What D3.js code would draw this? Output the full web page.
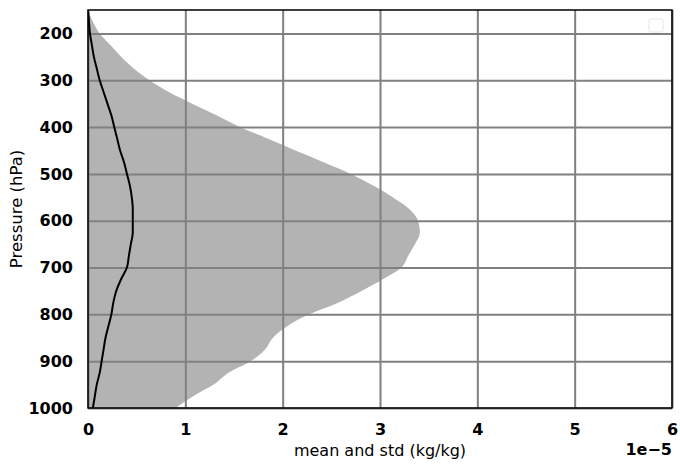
<!DOCTYPE html>
<meta charset="utf-8">
<style>

body {
  margin: 0;
  background: #fff;
  font-family: "DejaVu Sans", sans-serif;
}

.axis text {
  font-family: "DejaVu Sans", sans-serif;
  font-size: 16px;
  font-weight: bold;
  fill: #000;
}

.axis line {
  stroke: #808080;
  stroke-width: 2px;
}

.axis path.domain {
  display: none;
}

.line {
  fill: none;
  stroke: #000;
  stroke-width: 2px;
}

</style>
<body>
<script src="https://d3js.org/d3.v7.min.js"></script>
<div id="container"></div>

<script>

// pressure levels (hPa) and profiles, in units of 1e-5 kg/kg
var levels = [150, 175, 200, 225, 250, 275, 300, 325, 350, 375, 400, 425, 450, 475,
              500, 525, 550, 575, 600, 625, 650, 675, 700, 725, 750, 775, 800, 825,
              850, 875, 900, 925, 950, 975, 1000];
var meanVals = [0.00, 0.01, 0.02, 0.04, 0.06, 0.09, 0.12, 0.16, 0.20, 0.24, 0.27, 0.30,
                0.33, 0.37, 0.40, 0.43, 0.45, 0.46, 0.46, 0.46, 0.44, 0.42, 0.40, 0.34,
                0.29, 0.26, 0.24, 0.21, 0.18, 0.16, 0.14, 0.12, 0.09, 0.07, 0.05];
var stdVals = [0.00, 0.04, 0.10, 0.19, 0.28, 0.38, 0.51, 0.67, 0.87, 1.08, 1.29, 1.55,
               1.80, 2.05, 2.30, 2.50, 2.68, 2.84, 2.93, 2.95, 2.92, 2.87, 2.82, 2.69,
               2.52, 2.31, 2.03, 1.84, 1.72, 1.66, 1.53, 1.32, 1.20, 1.01, 0.85];
var xTicks = [0, 1, 2, 3, 4, 5, 6];
var yTicks = [200, 300, 400, 500, 600, 700, 800, 900, 1000];

var margin = {top: 10, right: 8, bottom: 57, left: 88},
    width = 680 - margin.left - margin.right,
    height = 465 - margin.top - margin.bottom;

var x = d3.scaleLinear().domain([0, 6]).range([0, width]);
var y = d3.scaleLinear().domain([150, 1000]).range([0, height]);

var rows = d3.range(levels.length).map(function(i) {
  return {p: levels[i], m: meanVals[i], s: stdVals[i]};
});

var svg = d3.select("#container")
    .append("svg")
        .attr("width", 680)
        .attr("height", 465);

var g = svg.append("g")
    .attr("transform", "translate(" + margin.left + "," + margin.top + ")");

g.append("clipPath")
    .attr("id", "clip")
  .append("rect")
    .attr("width", width)
    .attr("height", height);

// std band
var band = d3.area()
    .y(function(d) { return y(d.p); })
    .x0(function(d) { return x(d.m - d.s); })
    .x1(function(d) { return x(d.m + d.s); })
    .curve(d3.curveMonotoneY);

g.append("path")
    .attr("clip-path", "url(#clip)")
    .attr("fill", "#b3b3b3")
    .attr("d", band(rows));

// grid + tick labels
g.append("g")
    .attr("class", "x axis")
    .attr("transform", "translate(0," + height + ")")
    .call(d3.axisBottom(x).tickValues(xTicks).tickSize(-height).tickPadding(16)
      .tickFormat(d3.format("d")));

g.append("g")
    .attr("class", "y axis")
    .call(d3.axisLeft(y).tickValues(yTicks).tickSize(-width).tickPadding(15)
      .tickFormat(d3.format("d")));

// mean profile
var meanLine = d3.line()
    .y(function(d) { return y(d.p); })
    .x(function(d) { return x(d.m); })
    .curve(d3.curveMonotoneY);

g.append("path")
    .attr("class", "line")
    .attr("clip-path", "url(#clip)")
    .attr("d", meanLine(rows));

// frame
g.append("rect")
    .attr("width", width)
    .attr("height", height)
    .attr("fill", "none")
    .attr("stroke", "#000")
    .attr("stroke-width", 1.5);

// empty legend box
g.append("rect")
    .attr("x", width - 23)
    .attr("y", 9)
    .attr("width", 14)
    .attr("height", 13)
    .attr("rx", 2)
    .attr("fill", "#fff")
    .attr("stroke", "#e6e6e6")
    .attr("stroke-width", 1);

// labels
svg.append("text")
    .attr("x", margin.left + width / 2)
    .attr("y", 456)
    .attr("text-anchor", "middle")
    .style("font-size", "16px")
    .text("mean and std (kg/kg)");

svg.append("text")
    .attr("x", margin.left + width)
    .attr("y", 455)
    .attr("text-anchor", "end")
    .style("font-size", "16px")
    .style("font-weight", "bold")
    .text("1e\u22125");

svg.append("text")
    .attr("transform", "translate(22," + (margin.top + height / 2) + ") rotate(-90)")
    .attr("text-anchor", "middle")
    .style("font-size", "16.5px")
    .text("Pressure (hPa)");

</script>
